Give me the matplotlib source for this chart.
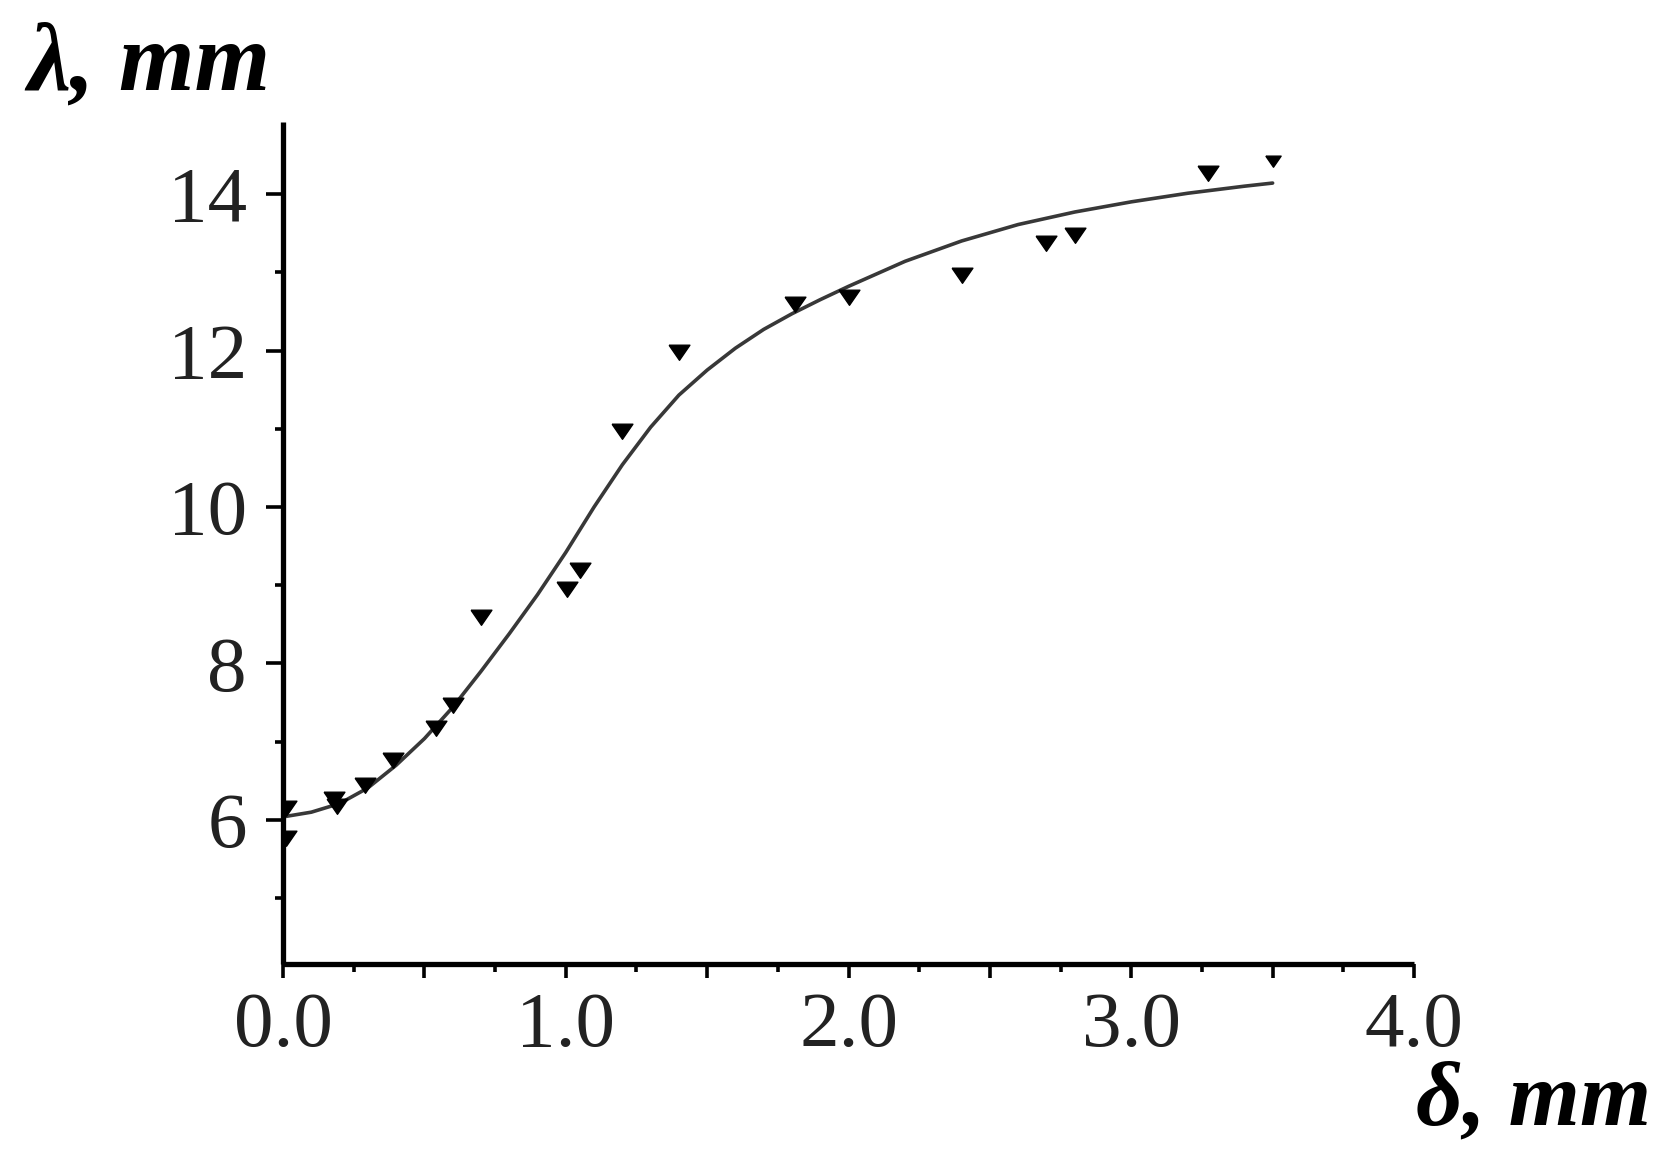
import matplotlib
matplotlib.use("Agg")
import matplotlib.pyplot as plt
from matplotlib.ticker import MultipleLocator, FuncFormatter

# Measured data (triangles)
delta_pts = [0.01, 0.01, 0.18, 0.19, 0.29, 0.39, 0.54, 0.60, 0.70, 1.005, 1.05,
             1.20, 1.40, 1.81, 2.00, 2.40, 2.70, 2.80, 3.27]
lambda_pts = [6.15, 5.77, 6.27, 6.18, 6.45, 6.77, 7.17, 7.47, 8.59, 8.95, 9.20,
              10.97, 11.98, 12.59, 12.68, 12.97, 13.37, 13.48, 14.27]
# last (smaller) triangle
delta_last = [3.50]
lambda_last = [14.42]

# Fitted curve
delta_fit = [0.0, 0.1, 0.2, 0.3, 0.4, 0.5, 0.6, 0.7, 0.8, 0.9, 1.0, 1.1, 1.2,
             1.3, 1.4, 1.5, 1.6, 1.7, 1.8, 1.9, 2.0, 2.2, 2.4, 2.6, 2.8, 3.0,
             3.2, 3.4, 3.5]
lambda_fit = [6.04, 6.10, 6.21, 6.41, 6.70, 7.04, 7.44, 7.90, 8.38, 8.88, 9.42,
              10.00, 10.54, 11.02, 11.43, 11.75, 12.03, 12.27, 12.47, 12.65, 12.82,
              13.14, 13.40, 13.61, 13.77, 13.90, 14.01, 14.10, 14.14]

x_tick_labels = ["0.0", "1.0", "2.0", "3.0", "4.0"]

plt.rcParams['font.family'] = ['Liberation Serif', 'DejaVu Serif']

fig = plt.figure(figsize=(16.7, 11.6), dpi=100)
ax = fig.add_axes([0.1695, 0.169, 0.8467 - 0.1695, 0.8948 - 0.169])

tri = [(-1.0, 0.7), (1.0, 0.7), (0.0, -0.75), (-1.0, 0.7)]

ax.plot(delta_fit, lambda_fit, color='#383838', lw=2.6, solid_capstyle='round',
        solid_joinstyle='round', zorder=2)
ax.plot(delta_pts, lambda_pts, linestyle='none', marker=tri, ms=15,
        color='black', zorder=3)
ax.plot(delta_last, lambda_last, linestyle='none', marker=tri, ms=11,
        color='black', zorder=3)

ax.set_xlim(0, 4.0)
ax.set_ylim(4.16, 14.92)

for s in ['top', 'right']:
    ax.spines[s].set_visible(False)
for s in ['left', 'bottom']:
    ax.spines[s].set_linewidth(3.8)
    ax.spines[s].set_color('black')
    ax.spines[s].set_capstyle('butt')

ax.xaxis.set_major_locator(MultipleLocator(0.5))
ax.xaxis.set_minor_locator(MultipleLocator(0.25))
ax.yaxis.set_minor_locator(MultipleLocator(1))
ax.set_yticks([6, 8, 10, 12, 14])

def xfmt(v, pos):
    if abs(v - round(v)) < 1e-6:
        i = int(round(v))
        if 0 <= i < len(x_tick_labels):
            return x_tick_labels[i]
    return ''

ax.xaxis.set_major_formatter(FuncFormatter(xfmt))
ax.tick_params(axis='both', which='major', direction='out', width=2.6,
               labelsize=57, colors='black', labelcolor='#222222')
ax.tick_params(axis='y', which='major', length=12, pad=14)
ax.tick_params(axis='y', which='minor', length=6, width=2.6, direction='out')
ax.tick_params(axis='x', which='major', length=10, pad=10)
ax.tick_params(axis='x', which='minor', length=6, width=2.6, direction='out')

fig.text(27 / 1670, 1 - 90 / 1160, 'λ, mm', fontsize=70, fontweight='bold',
         fontstyle='italic', ha='left', va='baseline', color='black')
fig.text(1651 / 1670, 1 - 1124 / 1160, 'δ, mm', fontsize=66, fontweight='bold',
         fontstyle='italic', ha='right', va='baseline', color='black')

fig.savefig('out.png', dpi=100, facecolor='white')
